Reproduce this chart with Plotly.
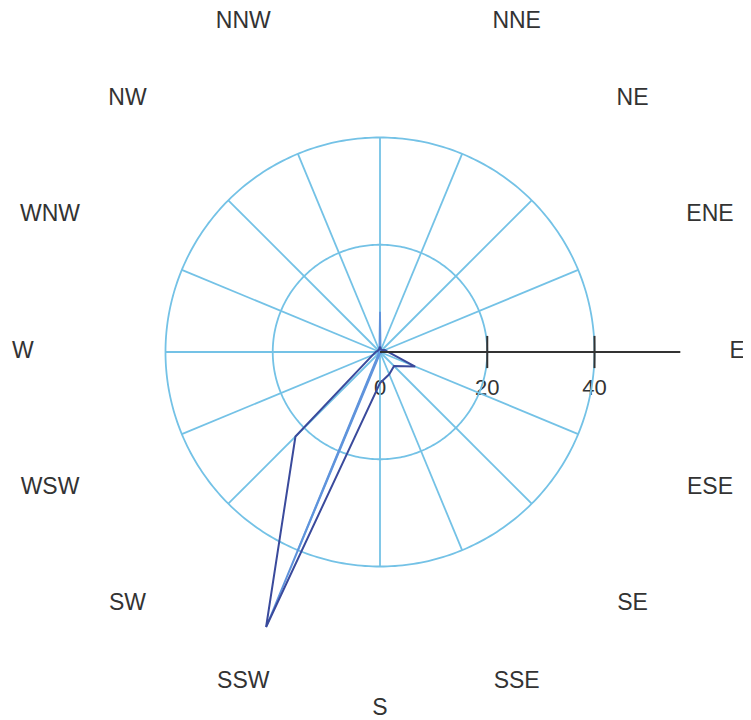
import numpy as np
import plotly.graph_objects as go

# ---- data ----
directions = ["N", "NNE", "NE", "ENE", "E", "ESE", "SE", "SSE",
              "S", "SSW", "SW", "WSW", "W", "WNW", "NW", "NNW"]
series_dark = [1.0, 0.5, 0.5, 1.0, 1.5, 7.1, 3.7, 4.5,
               5.8, 55.5, 22.3, 1.5, 0.8, 0.5, 0.5, 0.5]
series_light = [7.5, 0.3, 0.3, 0.3, 0.3, 0.3, 0.3, 0.3,
                0.3, 55.5, 0.3, 0.3, 0.3, 0.3, 0.3, 0.3]
grid_rings = [20, 40]
tick_values = [0, 20, 40]
tick_labels = ["0", "20", "40"]
axis_length = 56
label_radius = 66.6
tick_label_offset = 7.0
r_max = 63.4

# ---- layout geometry (figure sized to the 751x720 window minus page margin) ----
FIG_W, FIG_H = 743, 712
M = dict(l=1, r=0, t=4, b=0)
POLAR_PX = 680  # diameter of the polar area in pixels
plot_w = FIG_W - M["l"] - M["r"]
plot_h = FIG_H - M["t"] - M["b"]
polar_dom_y = [1 - POLAR_PX / plot_h, 1]
px_per_unit = (POLAR_PX / 2) / r_max
x_half = (plot_w / 2) / px_per_unit
y_low = -(plot_h - POLAR_PX / 2) / px_per_unit

angles = np.arange(len(directions)) * 360 / len(directions)

GRID = "#74c2e6"
TXT = "#333333"
FONT = "Liberation Sans, Arial, sans-serif"

fig = go.Figure()

# grid rings
ring_theta = np.linspace(0, 360, 361)
for rv in grid_rings:
    fig.add_trace(go.Scatterpolar(r=[rv] * len(ring_theta), theta=ring_theta,
                                  mode="lines", line=dict(color=GRID, width=1.8),
                                  hoverinfo="skip", showlegend=False))

# spokes
sr, st = [], []
for a in angles:
    sr += [0, grid_rings[-1], None]
    st += [a, a, None]
fig.add_trace(go.Scatterpolar(r=sr, theta=st, mode="lines",
                              line=dict(color=GRID, width=1.8),
                              hoverinfo="skip", showlegend=False))

# data series
th_closed = list(angles) + [angles[0]]
fig.add_trace(go.Scatterpolar(r=series_light + [series_light[0]], theta=th_closed,
                              mode="lines", line=dict(color="#5f93dc", width=1.8),
                              name="light", showlegend=False))
fig.add_trace(go.Scatterpolar(r=series_dark + [series_dark[0]], theta=th_closed,
                              mode="lines", line=dict(color="#3a4a9c", width=2),
                              name="dark", showlegend=False))

# radial axis line along E
e_angle = angles[directions.index("E")]
fig.add_trace(go.Scatterpolar(r=[0, axis_length], theta=[e_angle, e_angle], mode="lines",
                              line=dict(color=TXT, width=2), hoverinfo="skip",
                              showlegend=False))
# tick marks
fig.add_trace(go.Scatterpolar(r=tick_values[1:], theta=[e_angle] * (len(tick_values) - 1),
                              mode="markers",
                              marker=dict(symbol="line-ns", size=23,
                                          line=dict(color=TXT, width=2)),
                              hoverinfo="skip", showlegend=False))

# tick labels (cartesian overlay sharing the radial units)
fig.add_trace(go.Scatter(x=tick_values, y=[-tick_label_offset] * len(tick_values),
                         mode="text", text=tick_labels, textposition="middle center",
                         textfont=dict(family=FONT, size=22, color=TXT),
                         cliponaxis=False, hoverinfo="skip", showlegend=False))

# direction labels (N lies above the visible canvas in the reference, so it is left out)
rad = np.deg2rad(angles)
lx = label_radius * np.sin(rad)
ly = label_radius * np.cos(rad)
keep = ly < r_max
fig.add_trace(go.Scatter(x=lx[keep], y=ly[keep],
                         mode="text", text=[d for d, k in zip(directions, keep) if k],
                         textposition="middle center",
                         textfont=dict(family=FONT, size=23, color=TXT),
                         cliponaxis=False, hoverinfo="skip", showlegend=False))

fig.update_layout(
    width=FIG_W, height=FIG_H,
    margin=M,
    paper_bgcolor="white",
    plot_bgcolor="white",
    xaxis=dict(range=[-x_half, x_half], visible=False, fixedrange=True),
    yaxis=dict(range=[y_low, r_max], visible=False, fixedrange=True),
    polar=dict(
        domain=dict(x=[0, 1], y=polar_dom_y),
        bgcolor="rgba(0,0,0,0)",
        radialaxis=dict(range=[0, r_max], visible=False),
        angularaxis=dict(visible=False, direction="clockwise", rotation=90,
                         thetaunit="degrees"),
    ),
    showlegend=False,
)

fig.write_html("out.html")
